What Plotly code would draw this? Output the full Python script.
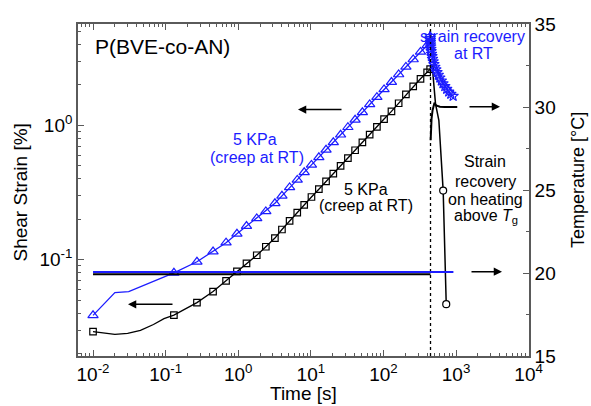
import plotly.graph_objects as go

# ---------------- data ----------------
creep_time = [0.01, 0.13, 0.27, 0.45, 0.68, 0.96, 1.3, 1.8, 2.4, 3.2, 4.0, 5.1, 6.5, 8.1, 10.2,
              12.9, 16.2, 20.4, 25.7, 32.4, 40.7, 51.3, 64.6, 81.3, 102, 129, 162, 204, 257, 324, 400]

black_strain = [0.0292, 0.0387, 0.048, 0.058, 0.0697, 0.082, 0.094, 0.108, 0.125, 0.145, 0.168,
                0.195, 0.224, 0.256, 0.293, 0.335, 0.383, 0.438, 0.50, 0.571, 0.653, 0.746, 0.853,
                0.975, 1.114, 1.27, 1.46, 1.70, 1.95, 2.22, 2.48]
black_last_time = [440]
black_last_strain = [2.62]
black_line_time = [0.015, 0.02, 0.03, 0.045, 0.068, 0.095]
black_line_strain = [0.0286, 0.0279, 0.0283, 0.0298, 0.033, 0.0365]

blue_strain = [0.0386, 0.080, 0.0966, 0.115, 0.134, 0.156, 0.178, 0.203, 0.229, 0.263, 0.299,
               0.345, 0.393, 0.447, 0.508, 0.578, 0.658, 0.748, 0.851, 0.968, 1.10, 1.25, 1.43,
               1.62, 1.85, 2.10, 2.39, 2.72, 3.09, 3.52, 3.94]
blue_line_time = [0.02, 0.031]
blue_line_strain = [0.057, 0.058]

# strain recovery at RT (blue stars)
recov_rt_time = [440, 441, 442, 443, 445, 447, 450, 454, 459, 466, 474, 484, 496, 510, 527, 547,
                 570, 597, 627, 661, 700, 744, 793, 848, 912]
recov_rt_strain = [4.6, 4.45, 4.3, 4.15, 4.0, 3.85, 3.7, 3.55, 3.4, 3.26, 3.12, 2.98, 2.85, 2.72,
                   2.6, 2.48, 2.37, 2.26, 2.15, 2.05, 1.95, 1.86, 1.78, 1.71, 1.65]

# strain recovery on heating (black line, open circles)
recov_heat_time = [440, 458, 475, 521, 580, 665, 733]
recov_heat_strain = [2.62, 2.85, 2.6, 1.45, 1.09, 0.327, 0.0467]
recov_heat_circle_time = [665, 733]
recov_heat_circle_strain = [0.327, 0.0467]

# temperature (right axis)
temp_rt_black_time = [0.01, 445]
temp_rt_black = [19.92, 19.92]
temp_heat_time = [447, 452, 460, 475, 490, 505, 530, 600, 700, 850, 1040]
temp_heat = [28.0, 28.6, 29.3, 29.8, 30.15, 30.25, 30.1, 30.02, 30, 30, 30]
temp_blue_time = [0.01, 920]
temp_blue = [20.06, 20.06]

switch_time = [445, 445]
switch_temp = [15, 35]

x_tick_vals = [0.01, 0.1, 1, 10, 100, 1000, 10000]
x_tick_text = ["10<sup>-2</sup>", "10<sup>-1</sup>", "10<sup>0</sup>", "10<sup>1</sup>",
               "10<sup>2</sup>", "10<sup>3</sup>", "10<sup>4</sup>"]
y_tick_vals = [0.1, 1]
y_tick_text = ["10<sup>-1</sup>", "10<sup>0</sup>"]
t_tick_vals = [15, 20, 25, 30, 35]
t_minor_vals = [17.5, 22.5, 27.5, 32.5]

BLUE = "#1c1cff"
FONT = "Liberation Sans, Arial, Helvetica, sans-serif"
AXC = "#5a5a5a"

def merged(t1, s1, t2, s2):
    pts = sorted(zip(list(t1) + list(t2), list(s1) + list(s2)))
    return [p[0] for p in pts], [p[1] for p in pts]

fig = go.Figure()

# temperature lines
fig.add_trace(go.Scatter(x=switch_time, y=switch_temp, yaxis="y2", mode="lines",
                         line=dict(color="black", width=1.3, dash="dot"), hoverinfo="skip"))
fig.add_trace(go.Scatter(x=temp_rt_black_time, y=temp_rt_black, yaxis="y2", mode="lines",
                         line=dict(color="black", width=2), hoverinfo="skip"))
fig.add_trace(go.Scatter(x=temp_heat_time, y=temp_heat, yaxis="y2", mode="lines",
                         line=dict(color="black", width=2), hoverinfo="skip"))
fig.add_trace(go.Scatter(x=temp_blue_time, y=temp_blue, yaxis="y2", mode="lines",
                         line=dict(color=BLUE, width=2), hoverinfo="skip"))

# black creep
bt, bs = merged(creep_time + black_last_time, black_strain + black_last_strain,
                black_line_time, black_line_strain)
fig.add_trace(go.Scatter(x=bt, y=bs, mode="lines", line=dict(color="black", width=1.3)))
fig.add_trace(go.Scatter(x=creep_time + black_last_time, y=black_strain + black_last_strain,
                         mode="markers",
                         marker=dict(symbol="square-open", size=6.5, color="black",
                                     line=dict(width=1.2))))

# black recovery on heating
fig.add_trace(go.Scatter(x=recov_heat_time, y=recov_heat_strain, mode="lines",
                         line=dict(color="black", width=1.5)))
fig.add_trace(go.Scatter(x=recov_heat_circle_time, y=recov_heat_circle_strain, mode="markers",
                         marker=dict(symbol="circle", size=7, color="white",
                                     line=dict(color="black", width=1.2))))

# blue creep
ut, us = merged(creep_time + recov_rt_time[:1], blue_strain + recov_rt_strain[:1],
                blue_line_time, blue_line_strain)
fig.add_trace(go.Scatter(x=ut, y=us, mode="lines", line=dict(color=BLUE, width=1.3)))
fig.add_trace(go.Scatter(x=creep_time, y=blue_strain, mode="markers",
                         marker=dict(symbol="triangle-up-open", size=9, color=BLUE,
                                     line=dict(width=1.2))))
# blue recovery at RT
fig.add_trace(go.Scatter(x=recov_rt_time, y=recov_rt_strain, mode="lines+markers",
                         line=dict(color=BLUE, width=1.2),
                         marker=dict(symbol="star-open", size=8, color=BLUE,
                                     line=dict(width=1.1))))

minor_x = [m * 10 ** e for e in range(-3, 5) for m in range(2, 10)]
minor_y = [m * 10 ** e for e in range(-2, 2) for m in range(2, 10)]

tickfont = dict(family=FONT, size=19, color="black")

fig.update_layout(
    width=591, height=406,
    margin=dict(l=78, r=62, t=24, b=50),
    paper_bgcolor="white", plot_bgcolor="white",
    showlegend=False,
    font=dict(family=FONT, color="black"),
    xaxis=dict(type="log", range=[-2.207, 4.005], tickmode="array", tickvals=x_tick_vals,
               ticktext=x_tick_text, ticks="inside", ticklen=6, tickwidth=1.2, tickcolor=AXC,
               showline=True, linecolor=AXC, linewidth=1.6, mirror="ticks", showgrid=False,
               zeroline=False, tickfont=tickfont,
               minor=dict(tickmode="array", tickvals=minor_x, ticks="inside", ticklen=3,
                          tickwidth=1, tickcolor=AXC, showgrid=False)),
    yaxis=dict(type="log", range=[-1.716, 0.754], tickmode="array", tickvals=y_tick_vals,
               ticktext=y_tick_text, ticks="inside", ticklen=6, tickwidth=1.2, tickcolor=AXC,
               showline=True, linecolor=AXC, linewidth=1.6, showgrid=False, zeroline=False,
               tickfont=tickfont,
               minor=dict(tickmode="array", tickvals=minor_y, ticks="inside", ticklen=3,
                          tickwidth=1, tickcolor=AXC, showgrid=False)),
    yaxis2=dict(overlaying="y", side="right", range=[15, 35], tickmode="array",
                tickvals=t_tick_vals, ticks="inside", ticklen=6, tickwidth=1.2, tickcolor=AXC,
                showline=True, linecolor=AXC, linewidth=1.6, showgrid=False, zeroline=False,
                tickfont=tickfont,
                minor=dict(tickmode="array", tickvals=t_minor_vals, ticks="inside", ticklen=3,
                           tickwidth=1, tickcolor=AXC, showgrid=False)),
)

def px2paper(px, py):
    return (px - 78) / 451.0, (356 - py) / 332.0

def text(px, py, s, size=16, color="black", xanchor="center", angle=0):
    x, y = px2paper(px, py)
    fig.add_annotation(x=x, y=y, xref="paper", yref="paper", text=s, showarrow=False,
                       xanchor=xanchor, yanchor="middle", textangle=angle,
                       font=dict(family=FONT, size=size, color=color))

def arrow(hx, hy, tx, ty):
    x, y = px2paper(hx, hy)
    fig.add_annotation(x=x, y=y, xref="paper", yref="paper", ax=tx - hx, ay=ty - hy,
                       text="", showarrow=True, arrowhead=2, arrowsize=1.1, arrowwidth=1.5,
                       arrowcolor="black")

text(93, 46, "P(BVE-co-AN)", size=21, xanchor="left")
text(255, 139.5, "5 KPa", color=BLUE)
text(257, 157, "(creep at RT)", color=BLUE)
text(365.5, 189, "5 KPa")
text(366, 205.5, "(creep at RT)")
text(472, 36, "strain recovery", color=BLUE)
text(473, 53.5, "at RT", color=BLUE)
text(485, 162, "Strain")
text(485, 181, "recovery")
text(485, 199, "on heating")
text(486, 216.5, "above <i>T</i><sub>g</sub>")

text(303, 393, "Time [s]", size=19)
text(20, 192.5, "Shear Strain [%]", size=19, angle=-90)
text(578, 180, "Temperature [°C]", size=18, angle=-90)

arrow(298, 109.5, 343, 109.5)
arrow(500, 106.7, 468, 106.7)
arrow(502, 271.7, 470, 271.7)
arrow(128, 304.3, 174, 304.3)

fig.write_html("out.html")
